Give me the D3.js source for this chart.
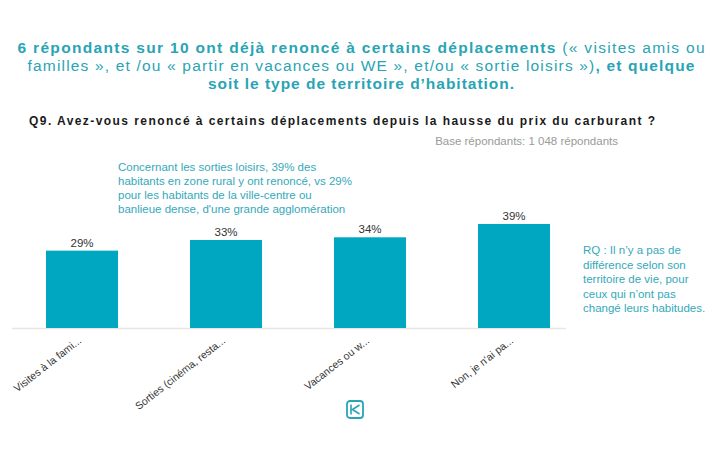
<!DOCTYPE html>
<html>
<head>
<meta charset="utf-8">
<script src="https://cdn.jsdelivr.net/npm/d3@7"></script>
<style>
  body { margin: 0; background: #fff; }
  text { font-family: "Liberation Sans", Arial, sans-serif; }
</style>
</head>
<body>
<svg id="chart" width="718" height="460"></svg>
<script>
// data
let categories = ["Visites à la fami...", "Sorties (cinéma, resta...", "Vacances ou w...", "Non, je n'ai pa..."];
let values = [29, 33, 34, 39];
let valueLabels = ["29%", "33%", "34%", "39%"];

let titleLines = [
    [{ t: "6 répondants sur 10 ont déjà renoncé à certains déplacements", b: true }, { t: " (« visites amis ou", b: false }],
    [{ t: "familles », et /ou « partir en vacances ou WE », et/ou « sortie loisirs »)", b: false }, { t: ", et quelque", b: true }],
    [{ t: "soit le type de territoire d’habitation.", b: true }],
];
let noteLines = [
    "Concernant les sorties loisirs, 39% des",
    "habitants en zone rural y ont renoncé, vs 29%",
    "pour les habitants de la ville-centre ou",
    "banlieue dense, d'une grande agglomération",
];
let rqLines = [
    "RQ : Il n’y a pas de",
    "différence selon son",
    "territoire de vie, pour",
    "ceux qui n’ont pas",
    "changé leurs habitudes.",
];

let colors = { bar: "#00a7c0", title: "#29a4b4", note: "#34a9ba", axis: "#e6e6e6" };

let svg = d3.select("#chart");

// title
let titleY = [53, 71, 89];
let titleW = [687, 667, 306];
titleLines.forEach((line, i) => {
    let t = svg.append("text")
        .attr("x", 361)
        .attr("y", titleY[i])
        .attr("text-anchor", "middle")
        .attr("textLength", titleW[i])
        .attr("lengthAdjust", "spacing")
        .style("font-size", "15.5px")
        .style("fill", colors.title);
    line.forEach((s) => {
        t.append("tspan").text(s.t).style("font-weight", s.b ? "bold" : "normal");
    });
});

svg.append("text")
    .attr("x", 29)
    .attr("y", 125)
    .attr("textLength", 626)
    .attr("lengthAdjust", "spacing")
    .style("font-size", "12px")
    .style("font-weight", "bold")
    .style("fill", "#1a1a1a")
    .text("Q9. Avez-vous renoncé à certains déplacements depuis la hausse du prix du carburant ?");

svg.append("text")
    .attr("x", 618)
    .attr("y", 145)
    .attr("text-anchor", "end")
    .style("font-size", "11.5px")
    .style("fill", "#9a9a9a")
    .text("Base répondants: 1 048 répondants");

// note above bars
svg.append("g")
    .selectAll("text")
    .data(noteLines)
    .enter()
    .append("text")
    .attr("x", 118)
    .attr("y", (d, i) => 171 + i * 14)
    .style("font-size", "11.5px")
    .style("fill", colors.note)
    .text((d) => d);

// RQ note
svg.append("g")
    .selectAll("text")
    .data(rqLines)
    .enter()
    .append("text")
    .attr("x", 583)
    .attr("y", (d, i) => 254 + i * 14.6)
    .style("font-size", "11.5px")
    .style("fill", colors.note)
    .text((d) => d);

// scales
let x = d3.scaleBand().domain(categories).range([10, 586]).paddingInner(0.5).paddingOuter(0.25);
let y = d3.scaleLinear().domain([0, 40]).range([328, 221.3]);

svg.append("line")
    .attr("x1", 12)
    .attr("x2", 566)
    .attr("y1", y(0) + 0.5)
    .attr("y2", y(0) + 0.5)
    .style("stroke", colors.axis)
    .style("stroke-width", 1.5);

svg.append("g")
    .selectAll("rect")
    .data(values)
    .enter()
    .append("rect")
    .attr("x", (d, i) => x(categories[i]))
    .attr("y", (d) => y(d))
    .attr("width", x.bandwidth())
    .attr("height", (d) => y(0) - y(d))
    .style("fill", colors.bar);

svg.append("g")
    .selectAll("text")
    .data(values)
    .enter()
    .append("text")
    .attr("x", (d, i) => x(categories[i]) + x.bandwidth() / 2)
    .attr("y", (d) => y(d) - 4)
    .attr("text-anchor", "middle")
    .style("font-size", "11.5px")
    .style("fill", "#333")
    .text((d, i) => valueLabels[i]);

// rotated category labels
svg.append("g")
    .selectAll("text")
    .data(categories)
    .enter()
    .append("text")
    .attr("transform", (d) => `translate(${x(d) + x.bandwidth() / 2}, ${y(0) + 14}) rotate(-38)`)
    .attr("text-anchor", "end")
    .style("font-size", "10.5px")
    .style("fill", "#333")
    .text((d) => d);

// logo
let logo = svg.append("g").attr("transform", "translate(347, 401)");
logo.append("rect")
    .attr("width", 16)
    .attr("height", 17)
    .attr("rx", 3)
    .style("fill", "none")
    .style("stroke", colors.title)
    .style("stroke-width", 1.8);
logo.append("path")
    .attr("d", "M4,3.5 V13.5 M12.5,4 L5.5,8.5 L12.5,13")
    .style("fill", "none")
    .style("stroke", colors.title)
    .style("stroke-width", 1.6);
</script>
</body>
</html>
